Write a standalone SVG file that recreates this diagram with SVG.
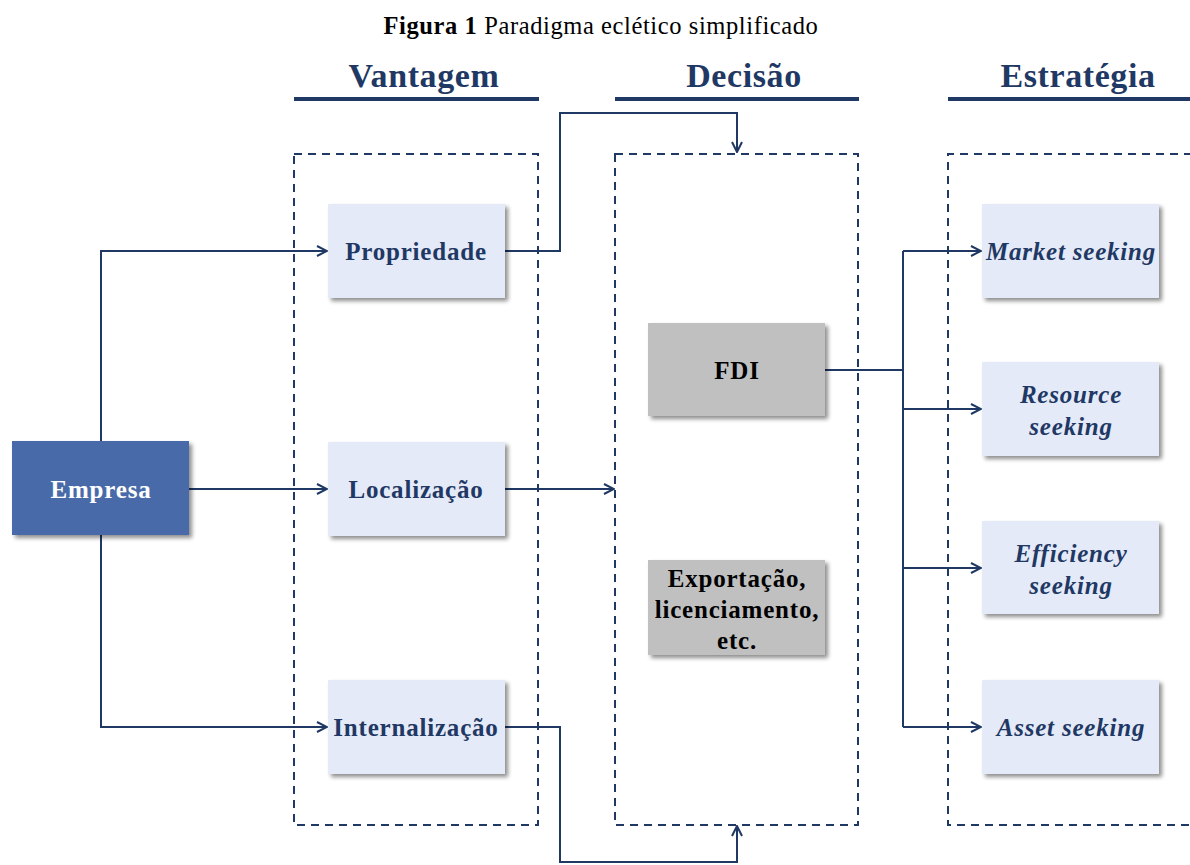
<svg xmlns="http://www.w3.org/2000/svg" width="1190" height="865" viewBox="0 0 1190 865">
<style>
.hdr{font-family:"Liberation Serif",serif;font-weight:bold;font-size:34px;letter-spacing:0.6px;fill:#1f3864;text-anchor:middle}
.ul{stroke:#1f3864;stroke-width:4}
.dash{fill:none;stroke:#1f3864;stroke-width:2;stroke-dasharray:8,6}
.lt{fill:#e4eaf8}
.gr{fill:#c0c0c0}
.em{fill:#4a6aa9}
.t{font-family:"Liberation Serif",serif;font-weight:bold;font-size:25px;letter-spacing:0.8px;text-anchor:middle}
.nv{fill:#1f3864}
.it{font-style:italic}
.c{fill:none;stroke:#1f3864;stroke-width:2}
</style>
<defs>
<filter id="sh" x="-10%" y="-10%" width="130%" height="130%">
<feGaussianBlur in="SourceAlpha" stdDeviation="2"/>
<feOffset dx="3" dy="3" result="b"/>
<feComponentTransfer><feFuncA type="linear" slope="0.45"/></feComponentTransfer>
<feMerge><feMergeNode/><feMergeNode in="SourceGraphic"/></feMerge>
</filter>
<marker id="ar" viewBox="0 0 12 12" refX="11" refY="6" markerWidth="12" markerHeight="12" markerUnits="userSpaceOnUse" orient="auto">
<path d="M1,1 L11,6 L1,11" fill="none" stroke="#1f3864" stroke-width="2"/>
</marker>
</defs>
<rect width="1190" height="865" fill="#fff"/>
<text x="601" y="34" text-anchor="middle" font-family="Liberation Serif,serif" font-size="24.5" letter-spacing="0.6"><tspan font-weight="bold">Figura 1</tspan> Paradigma eclético simplificado</text>

<text class="hdr" x="424" y="87">Vantagem</text>
<line class="ul" x1="294" y1="99" x2="539" y2="99"/>
<text class="hdr" x="744" y="87">Decisão</text>
<line class="ul" x1="615" y1="99" x2="859" y2="99"/>
<text class="hdr" x="1078" y="87">Estratégia</text>
<line class="ul" x1="948" y1="99" x2="1190" y2="99"/>

<rect class="dash" x="294" y="154" width="244" height="671"/>
<rect class="dash" x="615" y="154" width="243" height="671"/>
<path class="dash" d="M1192,154 H948 V825 H1192"/>

<g id="connectors">
<path class="c" d="M101,441 V251 H327" marker-end="url(#ar)"/>
<path class="c" d="M189,489 H327" marker-end="url(#ar)"/>
<path class="c" d="M101,535 V727 H327" marker-end="url(#ar)"/>
<path class="c" d="M505,251 H560 V113 H737 V152" marker-end="url(#ar)"/>
<path class="c" d="M505,489 H614" marker-end="url(#ar)"/>
<path class="c" d="M505,727 H560 V862 H737 V826" marker-end="url(#ar)"/>
<path class="c" d="M825,370 H903"/>
<path class="c" d="M903,251 V727"/>
<path class="c" d="M903,251 H981" marker-end="url(#ar)"/>
<path class="c" d="M903,409 H981" marker-end="url(#ar)"/>
<path class="c" d="M903,568 H981" marker-end="url(#ar)"/>
<path class="c" d="M903,727 H981" marker-end="url(#ar)"/>
</g>

<g id="empresa"><rect class="em" x="12" y="441" width="177" height="94" filter="url(#sh)"/><text class="t" x="101" y="498" fill="#fff">Empresa</text></g>
<g id="propriedade"><rect class="lt" x="328" y="204" width="177" height="94" filter="url(#sh)"/><text class="t nv" x="416" y="260">Propriedade</text></g>
<g id="localizacao"><rect class="lt" x="328" y="442" width="177" height="94" filter="url(#sh)"/><text class="t nv" x="416" y="498">Localização</text></g>
<g id="internalizacao"><rect class="lt" x="328" y="680" width="177" height="94" filter="url(#sh)"/><text class="t nv" x="416" y="736">Internalização</text></g>
<g id="fdi"><rect class="gr" x="648" y="323" width="177" height="93" filter="url(#sh)"/><text class="t" x="737" y="379" fill="#000">FDI</text></g>
<g id="exportacao"><rect class="gr" x="648" y="560" width="177" height="95" filter="url(#sh)"/><text class="t" x="737" y="587" fill="#000"><tspan x="737">Exportação,</tspan><tspan x="737" dy="31">licenciamento,</tspan><tspan x="737" dy="31">etc.</tspan></text></g>
<g id="market"><rect class="lt" x="982" y="204" width="177" height="94" filter="url(#sh)"/><text class="t nv it" x="1071" y="260">Market seeking</text></g>
<g id="resource"><rect class="lt" x="982" y="362" width="177" height="94" filter="url(#sh)"/><text class="t nv it" x="1071" y="403"><tspan x="1071">Resource</tspan><tspan x="1071" dy="32">seeking</tspan></text></g>
<g id="efficiency"><rect class="lt" x="982" y="521" width="177" height="93" filter="url(#sh)"/><text class="t nv it" x="1071" y="562"><tspan x="1071">Efficiency</tspan><tspan x="1071" dy="32">seeking</tspan></text></g>
<g id="asset"><rect class="lt" x="982" y="680" width="177" height="94" filter="url(#sh)"/><text class="t nv it" x="1071" y="736">Asset seeking</text></g>
</svg>
